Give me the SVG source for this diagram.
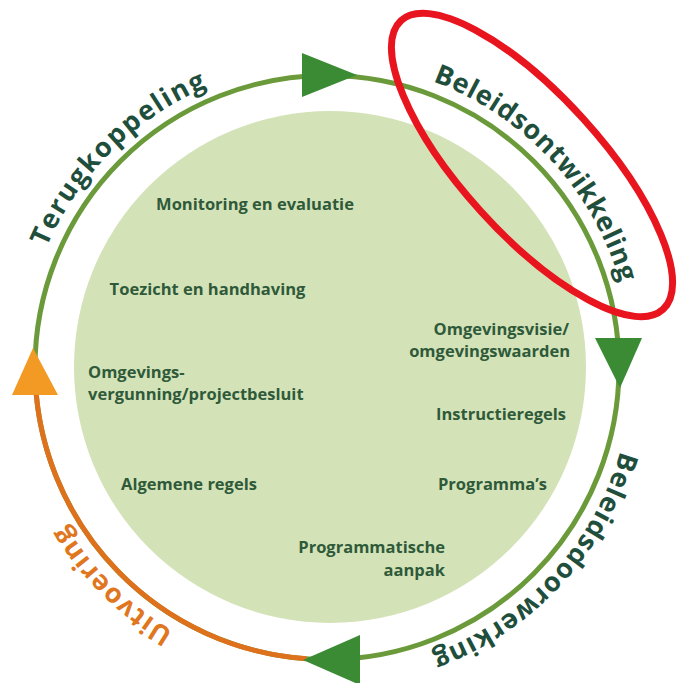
<svg xmlns="http://www.w3.org/2000/svg" width="679" height="683" viewBox="0 0 679 683">
<style>
.ring{fill:none;stroke:#6b9a3a;stroke-width:5}
.ring-o{fill:none;stroke:#e0711c;stroke-width:5}
.arrow{fill:#3b8b35}
.arrow-o{fill:#f39a24}
.lbl{font-family:"Open Sans","Noto Sans",sans-serif;font-weight:700;font-size:27px;fill:#1f4f3c}
.lbl-o{fill:#e0761e}
.in{font-family:"Open Sans","Noto Sans",sans-serif;font-weight:700;font-size:16.5px;fill:#2e5a3a}
</style>
<defs>
<path id="tp" d="M 22 367.5 A 305 305 0 1 1 632 367.5 A 305 305 0 1 1 22 367.5"/>
</defs>
<rect width="679" height="683" fill="#ffffff"/>
<g id="inner-circle">
<circle cx="330" cy="367" r="256" fill="#d4e2b8"/>
</g>
<g id="connectors">
<circle class="ring" cx="327" cy="367.5" r="292"/>
<path class="ring-o" d="M 306.6 658.8 A 292 292 0 0 1 35.2 377.7"/>
<polygon class="arrow" points="302,53 302,97 357,75"/>
<polygon class="arrow" points="595,338 642,338 620,388"/>
<polygon class="arrow" points="303,660 360,635 360,685"/>
<polygon class="arrow-o" points="12,395 58,395 33,348"/>
</g>
<g id="label-terugkoppeling">
<text class="lbl"><textPath href="#tp" startOffset="239.5" text-anchor="middle" textLength="232" lengthAdjust="spacing">Terugkoppeling</textPath></text>
</g>
<g id="label-beleidsontwikkeling">
<text class="lbl"><textPath href="#tp" startOffset="729.3" text-anchor="middle" textLength="285" lengthAdjust="spacing">Beleidsontwikkeling</textPath></text>
</g>
<g id="label-beleidsdoorwerking">
<text class="lbl"><textPath href="#tp" startOffset="1186" text-anchor="middle" textLength="287" lengthAdjust="spacing">Beleidsdoorwerking</textPath></text>
</g>
<g id="label-uitvoering">
<text class="lbl lbl-o"><textPath href="#tp" startOffset="1674" text-anchor="middle" textLength="153" lengthAdjust="spacing">Uitvoering</textPath></text>
</g>
<g id="node-monitoring"><text class="in" x="255" y="210" text-anchor="middle">Monitoring en evaluatie</text></g>
<g id="node-toezicht"><text class="in" x="207.5" y="295" text-anchor="middle">Toezicht en handhaving</text></g>
<g id="node-omgevingsvergunning"><text class="in" x="88" y="378">Omgevings-</text><text class="in" x="88" y="400">vergunning/projectbesluit</text></g>
<g id="node-algemene-regels"><text class="in" x="189" y="490" text-anchor="middle">Algemene regels</text></g>
<g id="node-omgevingsvisie"><text class="in" x="569" y="335" text-anchor="end">Omgevingsvisie/</text><text class="in" x="570" y="357" text-anchor="end">omgevingswaarden</text></g>
<g id="node-instructieregels"><text class="in" x="501" y="420" text-anchor="middle">Instructieregels</text></g>
<g id="node-programmas"><text class="in" x="492.5" y="490" text-anchor="middle">Programma’s</text></g>
<g id="node-programmatische-aanpak"><text class="in" x="445" y="553" text-anchor="end">Programmatische</text><text class="in" x="445" y="576" text-anchor="end">aanpak</text></g>
<g id="annotation">
<ellipse cx="532" cy="165" rx="195" ry="69" transform="rotate(47.8 532 165)" fill="none" stroke="#e8141e" stroke-width="7"/>
</g>
</svg>
